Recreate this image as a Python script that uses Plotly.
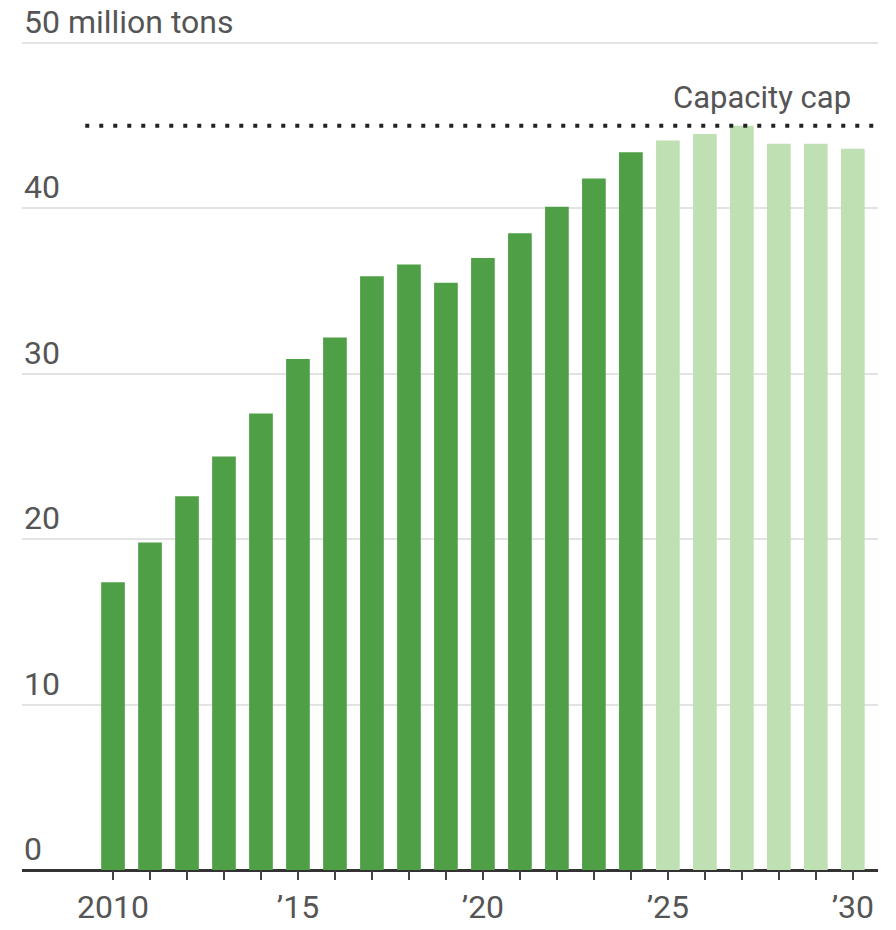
import plotly.graph_objects as go

years = list(range(2010, 2031))
values = [17.4, 19.8, 22.6, 25.0, 27.6, 30.9, 32.2, 35.9, 36.6, 35.5, 37.0,
          38.5, 40.1, 41.8, 43.4, 44.1, 44.5, 45.0, 43.9, 43.9, 43.6]
forecast_start = 2025
capacity_cap = 45.0
y_ticks = [0, 10, 20, 30, 40, 50]
y_tick_labels = ["0", "10", "20", "30", "40", "50 million tons"]
x_label_map = {2010: "2010", 2015: "\u201915", 2020: "\u201920", 2025: "\u201925", 2030: "\u201930"}
x_tick_text = [x_label_map.get(y, "") for y in years]

DARK = "#4e9f45"
LIGHT = "#bfe0b3"
TEXT = "#555555"
FONT = "Roboto, Liberation Sans Narrow, sans-serif"

colors = [DARK if y < forecast_start else LIGHT for y in years]

fig = go.Figure()
fig.add_trace(go.Bar(x=years, y=values, marker=dict(color=colors, line=dict(width=0)),
                     width=0.64, hoverinfo="x+y"))

# capacity cap dotted line
fig.add_shape(type="line", xref="x", yref="y", x0=2009.25, x1=2030.7,
              y0=capacity_cap, y1=capacity_cap,
              line=dict(color="#222222", width=4, dash="4px,10px"))
fig.add_annotation(text="Capacity cap", xref="x", yref="y", x=2030.0, y=capacity_cap,
                   xanchor="right", yanchor="bottom", yshift=8, showarrow=False,
                   font=dict(family=FONT, size=31, color=TEXT))

for v, lab in zip(y_ticks, y_tick_labels):
    fig.add_annotation(text=lab, xref="paper", yref="y", x=0, y=v,
                       xanchor="left", yanchor="bottom", yshift=0, showarrow=False,
                       font=dict(family=FONT, size=32, color=TEXT))

fig.update_layout(
    width=896, height=930,
    margin=dict(l=22, r=18, t=38, b=60, autoexpand=False),
    paper_bgcolor="white", plot_bgcolor="white",
    showlegend=False,
    font=dict(family=FONT, color=TEXT),
    xaxis=dict(range=[2007.54, 2030.68], tickmode="array", tickvals=years,
               ticktext=x_tick_text, ticks="outside", ticklen=9, tickwidth=2,
               tickcolor="#444444", showgrid=False, zeroline=False, automargin=False,
               showline=False, tickfont=dict(family=FONT, size=32, color=TEXT)),
    yaxis=dict(range=[0, 50.3], tickvals=y_ticks, showticklabels=False,
               showgrid=True, gridcolor="#e3e3e3", gridwidth=1.5, automargin=False,
               zeroline=True, zerolinecolor="#333333", zerolinewidth=2.5,
               showline=False, fixedrange=True),
)

fig.write_html("out.html")
